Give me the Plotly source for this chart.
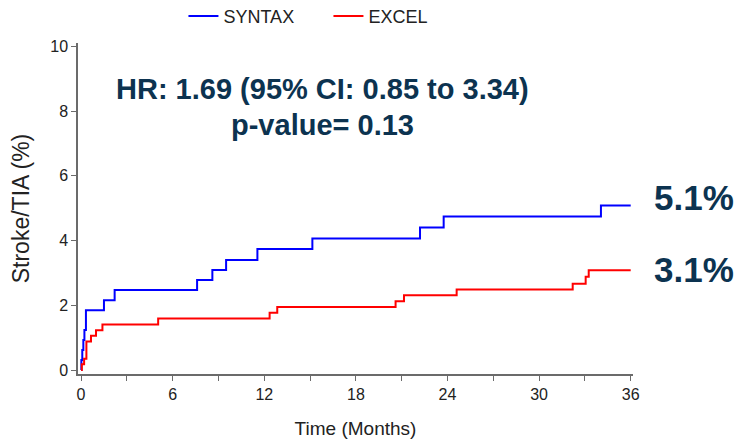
import plotly.graph_objects as go

# Data
syntax_t = [0, 0.02, 0.08, 0.15, 0.22, 0.32, 1.5, 2.2, 7.6, 8.6, 9.5, 11.55, 15.15, 22.2, 23.75, 34.05, 36]
syntax_v = [0, 0.31, 0.62, 0.93, 1.24, 1.85, 2.16, 2.47, 2.78, 3.09, 3.40, 3.74, 4.06, 4.40, 4.74, 5.08, 5.08]

excel_t = [0, 0.05, 0.2, 0.35, 0.65, 0.98, 1.4, 5.05, 12.35, 12.85, 20.6, 21.15, 24.6, 32.2, 33.05, 33.25, 36]
excel_v = [0, 0.18, 0.35, 0.88, 1.06, 1.23, 1.41, 1.59, 1.77, 1.95, 2.13, 2.31, 2.49, 2.67, 2.88, 3.08, 3.08]

x_ticks = [0, 6, 12, 18, 24, 30, 36]
y_ticks = [0, 2, 4, 6, 8, 10]

hr_text = "HR: 1.69 (95% CI: 0.85 to 3.34)"
p_text = "p-value= 0.13"
syntax_end = "5.1%"
excel_end = "3.1%"

navy = "#0c3350"
axis_col = "#6b6b6b"
font = "Liberation Sans, Arial, sans-serif"

fig = go.Figure()
fig.add_trace(go.Scatter(x=syntax_t, y=syntax_v, mode="lines", name="SYNTAX",
                         line=dict(color="#0000ff", width=2, shape="hv")))
fig.add_trace(go.Scatter(x=excel_t, y=excel_v, mode="lines", name="EXCEL",
                         line=dict(color="#ff0000", width=2, shape="hv")))

fig.add_annotation(x=15.8, y=8.67, text="<b>" + hr_text + "</b>", showarrow=False,
                   font=dict(family=font, size=29, color=navy), xanchor="center", yanchor="middle")
fig.add_annotation(x=15.8, y=7.56, text="<b>" + p_text + "</b>", showarrow=False,
                   font=dict(family=font, size=29, color=navy), xanchor="center", yanchor="middle")
fig.add_annotation(x=1.11, y=5.33, xref="paper", text="<b>" + syntax_end + "</b>", showarrow=False,
                   font=dict(family=font, size=35, color=navy), xanchor="center", yanchor="middle")
fig.add_annotation(x=1.11, y=3.12, xref="paper", text="<b>" + excel_end + "</b>", showarrow=False,
                   font=dict(family=font, size=35, color=navy), xanchor="center", yanchor="middle")

fig.update_layout(
    width=741, height=440,
    margin=dict(l=78, r=108, t=43, b=66, autoexpand=False),
    plot_bgcolor="white", paper_bgcolor="white",
    font=dict(family=font, color="#222222"),
    showlegend=True,
    legend=dict(orientation="h", x=0.19, y=1.081, xanchor="left", yanchor="middle",
                font=dict(size=18, color="#222222"), entrywidth=100, itemwidth=30,
                bgcolor="rgba(0,0,0,0)"),
    xaxis=dict(range=[-0.2, 36.15], tickvals=x_ticks, ticktext=[str(v) for v in x_ticks],
               showgrid=False, zeroline=False, showline=True, linecolor=axis_col, linewidth=1.5,
               ticks="outside", ticklen=5, tickcolor=axis_col, tickwidth=1,
               minor=dict(dtick=3, tick0=0, ticks="outside", ticklen=5, tickcolor=axis_col, showgrid=False),
               tickfont=dict(size=16, color="#222222"),
               title=dict(text="Time (Months)", font=dict(size=19, color="#222222"), standoff=20)),
    yaxis=dict(range=[-0.12, 10.1], tickvals=y_ticks, ticktext=[str(v) for v in y_ticks],
               showgrid=False, zeroline=False, showline=True, linecolor=axis_col, linewidth=1.5,
               ticks="outside", ticklen=5, tickcolor=axis_col, tickwidth=1,
               tickfont=dict(size=16, color="#222222"),
               title=dict(text="Stroke/TIA (%)", font=dict(size=23, color="#222222"), standoff=14)),
)

fig.write_html("out.html")
